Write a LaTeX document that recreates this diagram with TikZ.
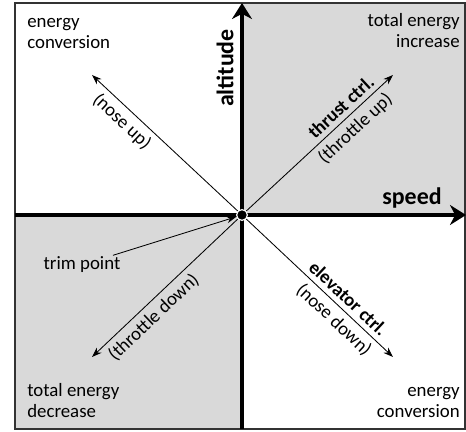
\documentclass[tikz,border=0pt]{standalone}
\usepackage{fontspec}
\setmainfont{Carlito}
\usetikzlibrary{arrows.meta}

\begin{document}
\begin{tikzpicture}[every node/.style={font=\fontsize{13.4}{14.9}\selectfont, inner sep=1pt},
  axis/.style={line width=3.5pt, -{Stealth[length=0.4cm,width=0.5cm]}},
  diag/.style={line width=0.6pt, -{Stealth[length=7pt,width=5pt]}},
  axislabel/.style={font=\fontsize{17}{20}\selectfont\bfseries},
  ctrl/.style={sloped, inner sep=3.5pt},
  corner/.style={align=#1, inner sep=0pt}]

\useasboundingbox (-6.05,-5.425) rectangle (5.6,5.375);

% Quadrants
\fill[black!15] (0,0) rectangle (5.575,5.3);
\fill[black!15] (-5.675,-5.35) rectangle (0,0);
\draw[line width=0.8pt, black!80] (-5.675,-5.35) rectangle (5.575,5.3);

% Axes
\coordinate (west) at (-5.675,0);
\coordinate (east) at (5.6,0);
\coordinate (south) at (0,-5.35);
\coordinate (north) at (0,5.3);
\draw[axis] (west) -- (east);
\draw[axis] (south) -- (north);

\node[axislabel, rotate=90] (alt) at (-0.425,3.675) {altitude};
\node[axislabel] (spd) at (4.25,0.425) {speed};

% Trim point
\node[circle, fill=black, draw=white, line width=0.8pt, inner sep=0pt, minimum size=0.27cm] (trim) at (0,0) {};

% Control directions
\coordinate (noseup) at (-3.75,3.5);
\coordinate (thrup) at (3.775,3.5);
\coordinate (thrdown) at (-3.75,-3.55);
\coordinate (nosedown) at (3.775,-3.55);

\draw[diag] (trim) -- (noseup) node[ctrl, pos=0.73, below] {(nose up)};
\draw[diag] (trim) -- (thrup)
  node[ctrl, pos=0.7, above, font=\fontsize{13.4}{14.9}\selectfont\bfseries] {thrust ctrl.}
  node[ctrl, pos=0.68, below] {(throttle up)};
\draw[diag] (trim) -- (thrdown) node[ctrl, pos=0.64, below] {(throttle down)};
\draw[diag] (trim) -- (nosedown)
  node[ctrl, pos=0.64, above, font=\fontsize{13.4}{14.9}\selectfont\bfseries] {elevator ctrl.}
  node[ctrl, pos=0.66, below] {(nose down)};

\node (tp) at (-4.0,-1.25) {trim point};
\draw[diag] (tp) -- (trim);

% Corner labels
\node[corner=left, anchor=south west] (tl) at (-5.375,4.15) {energy\\conversion};
\node[corner=right, anchor=south east] (tr) at (5.45,4.175) {total energy\\increase};
\node[corner=left, anchor=south west] (bl) at (-5.375,-5.075) {total energy\\decrease};
\node[corner=right, anchor=south east] (br) at (5.45,-5.075) {energy\\conversion};

\end{tikzpicture}
\end{document}
